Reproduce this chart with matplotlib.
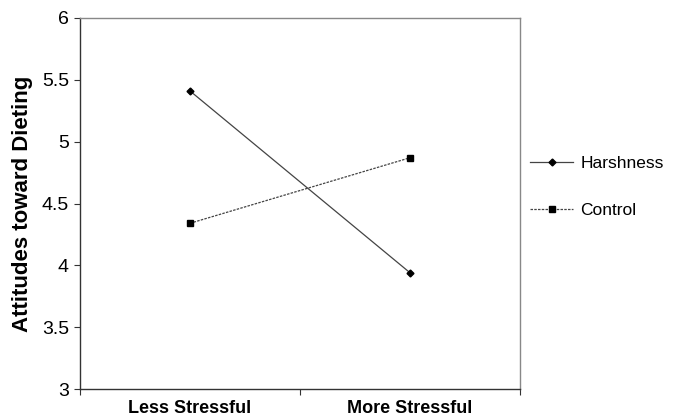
import matplotlib
matplotlib.use('Agg')
import matplotlib.pyplot as plt

plt.rcParams['font.family'] = ['Liberation Sans', 'DejaVu Sans']

# data
conditions = ['Less Stressful', 'More Stressful']
harshness = [5.41, 3.94]
control = [4.34, 4.87]

fig = plt.figure(figsize=(6.77, 4.18), dpi=100)
ax = fig.add_axes([80 / 677, 1 - 389 / 418, 440 / 677, 371 / 418])

x = list(range(len(conditions)))
ax.plot(x, harshness, color='#444444', lw=0.9, marker='D', ms=3.5,
        mfc='black', mec='black', label='Harshness')
ax.plot(x, control, color='#444444', lw=0.9, ls=(0, (2, 1)), marker='s', ms=5,
        mfc='black', mec='black', label='Control')

ax.set_xlim(-0.5, 1.5)
ax.set_ylim(3, 6)
ax.set_yticks([3, 3.5, 4, 4.5, 5, 5.5, 6])
ax.set_yticklabels(['3', '3.5', '4', '4.5', '5', '5.5', '6'], fontsize=14)
ax.set_xticks([-0.5, 0.5, 1.5])
ax.set_xticklabels([])
ax.set_xticks(x, minor=True)
ax.set_xticklabels(conditions, minor=True, fontsize=13, fontweight='bold')
ax.tick_params(axis='x', which='minor', length=0, pad=8)
ax.tick_params(axis='both', which='major', length=4, color='#333333', direction='out')
ax.tick_params(axis='y', pad=4)
ax.set_ylabel('Attitudes toward Dieting', fontsize=16, fontweight='bold', labelpad=6)

for side in ['left', 'bottom']:
    ax.spines[side].set_color('#333333')
for side in ['top', 'right']:
    ax.spines[side].set_color('#888888')
for s in ax.spines.values():
    s.set_linewidth(1.0)

fig.legend(loc='center left', bbox_to_anchor=(530 / 677, 1 - 187 / 418),
           frameon=False, fontsize=12.5, handlelength=2.5, labelspacing=1.85,
           handletextpad=0.4, borderpad=0, borderaxespad=0)

fig.savefig('out.png', dpi=100)
